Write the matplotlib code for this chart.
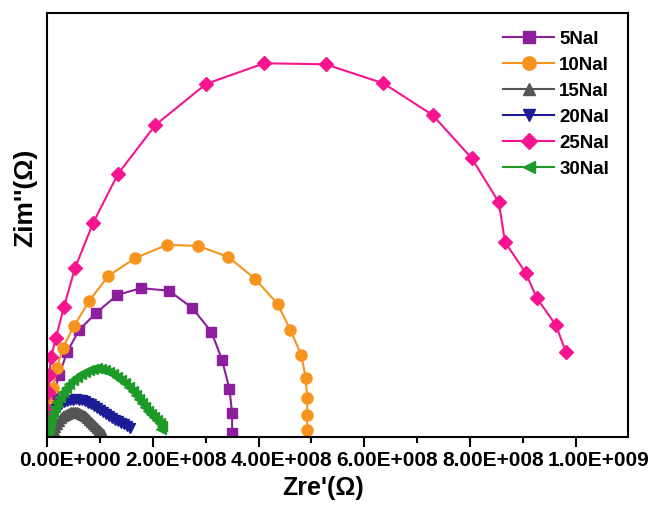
import matplotlib
matplotlib.use("Agg")
import matplotlib.pyplot as plt
from matplotlib.ticker import MultipleLocator, FuncFormatter
from matplotlib.transforms import ScaledTranslation
import numpy as np

plt.rcParams['font.family'] = ['Liberation Sans', 'DejaVu Sans']
plt.rcParams['font.weight'] = 'bold'

# values, in units of 1e8 ohm
unit = 1e8

x_5 = [0.00, 0.04, 0.11, 0.23, 0.38, 0.61, 0.93, 1.33, 1.78, 2.31, 2.75, 3.11, 3.31, 3.45, 3.50, 3.50]
y_5 = [0.00, 0.32, 0.74, 1.17, 1.61, 2.03, 2.35, 2.69, 2.82, 2.77, 2.44, 1.99, 1.46, 0.91, 0.45, 0.08]

x_10 = [0.00, 0.02, 0.06, 0.11, 0.19, 0.30, 0.51, 0.80, 1.16, 1.67, 2.27, 2.86, 3.43, 3.94,
        4.36, 4.60, 4.81, 4.89, 4.92, 4.92, 4.92]
y_10 = [0.00, 0.23, 0.61, 0.93, 1.31, 1.69, 2.10, 2.58, 3.05, 3.39, 3.64, 3.62, 3.41, 2.99,
        2.52, 2.03, 1.55, 1.12, 0.74, 0.42, 0.13]

x_15 = [0.11, 0.13, 0.15, 0.19, 0.23, 0.27, 0.30, 0.34, 0.38, 0.42, 0.45, 0.49, 0.53, 0.57,
        0.61, 0.64, 0.68, 0.72, 0.76, 0.80, 0.83, 0.87, 0.91, 0.95, 0.98, 1.02, 1.06]
y_15 = [0.04, 0.11, 0.19, 0.25, 0.30, 0.36, 0.40, 0.42, 0.44, 0.45, 0.47, 0.47, 0.47, 0.47,
        0.45, 0.44, 0.42, 0.40, 0.36, 0.32, 0.28, 0.25, 0.21, 0.17, 0.13, 0.09, 0.06]

x_20 = [0.00, 0.02, 0.04, 0.06, 0.09, 0.13, 0.17, 0.21, 0.27, 0.32, 0.38, 0.44, 0.49, 0.55,
        0.61, 0.66, 0.72, 0.78, 0.83, 0.89, 0.95, 1.00, 1.06, 1.12, 1.17, 1.23, 1.29, 1.34,
        1.40, 1.46, 1.52, 1.57]
y_20 = [0.06, 0.15, 0.25, 0.32, 0.40, 0.47, 0.53, 0.59, 0.63, 0.66, 0.68, 0.70, 0.70, 0.72,
        0.70, 0.70, 0.68, 0.64, 0.63, 0.59, 0.55, 0.51, 0.47, 0.44, 0.40, 0.36, 0.32, 0.30,
        0.27, 0.25, 0.21, 0.17]

x_25 = [0.00, 0.00, 0.00, 0.02, 0.04, 0.08, 0.17, 0.32, 0.53, 0.87, 1.34, 2.05, 3.01, 4.11,
        5.27, 6.36, 7.29, 8.03, 8.54, 8.66, 9.05, 9.26, 9.62, 9.81]
y_25 = [0.00, 0.23, 0.51, 0.85, 1.17, 1.52, 1.88, 2.46, 3.20, 4.05, 4.98, 5.91, 6.69, 7.08,
        7.06, 6.70, 6.10, 5.28, 4.45, 3.69, 3.11, 2.63, 2.12, 1.61]

x_30 = [0.02, 0.04, 0.06, 0.08, 0.11, 0.15, 0.19, 0.25, 0.30, 0.36, 0.42, 0.49, 0.57, 0.64,
        0.72, 0.80, 0.87, 0.95, 1.02, 1.10, 1.17, 1.25, 1.33, 1.40, 1.48, 1.55, 1.63, 1.69,
        1.74, 1.80, 1.86, 1.91, 1.97, 2.03, 2.08, 2.14, 2.18, 2.16]
y_30 = [0.06, 0.17, 0.28, 0.38, 0.47, 0.57, 0.66, 0.76, 0.85, 0.93, 1.00, 1.08, 1.14, 1.19,
        1.23, 1.27, 1.29, 1.31, 1.29, 1.27, 1.23, 1.19, 1.14, 1.08, 1.02, 0.95, 0.87, 0.80,
        0.72, 0.64, 0.57, 0.49, 0.44, 0.38, 0.32, 0.27, 0.21, 0.15]

labels = ["5NaI", "10NaI", "15NaI", "20NaI", "25NaI", "30NaI"]
colors = ["#8c1f9c", "#f7941d", "#555555", "#1c1c96", "#f7158f", "#1e9a28"]
markers = ["s", "o", "^", "v", "D", "<"]
msizes = [7, 8, 7, 7, 7, 7]

series = [(x_5, y_5), (x_10, y_10), (x_15, y_15), (x_20, y_20), (x_25, y_25), (x_30, y_30)]

fig = plt.figure(figsize=(6.56, 5.05), dpi=100)
ax = fig.add_axes([0.0716, 0.1347, 0.8854, 0.8393])

for (xs, ys), lab, c, m, ms in zip(series, labels, colors, markers, msizes):
    ax.plot(np.array(xs) * unit, np.array(ys) * unit, color=c, marker=m, markersize=ms,
            markeredgecolor=c, linewidth=1.5, label=lab)

ax.set_xlim(0, 10.98 * unit)
ax.set_ylim(0, 8.03 * unit)


def origin_fmt(v, pos):
    if v == 0:
        return "0.00E+000"
    e = int(np.floor(np.log10(abs(v)) + 1e-9))
    return "%.2fE+%03d" % (v / 10 ** e, e)


ax.xaxis.set_major_locator(MultipleLocator(2 * unit))
ax.xaxis.set_minor_locator(MultipleLocator(1 * unit))
ax.xaxis.set_major_formatter(FuncFormatter(origin_fmt))
ax.tick_params(axis='x', which='major', direction='out', length=7, width=1.5,
               labelsize=15, pad=3)
ax.tick_params(axis='x', which='minor', direction='out', length=4, width=1.5)
ax.tick_params(axis='y', which='both', left=False, labelleft=False)

# labels in the source sit a little right of their ticks
shift = ScaledTranslation(23 / 100, 0, fig.dpi_scale_trans)
for lab in ax.get_xticklabels():
    lab.set_fontweight('bold')
    lab.set_transform(lab.get_transform() + shift)

for s in ax.spines.values():
    s.set_linewidth(1.5)

ax.set_xlabel("Zre'(Ω)", fontsize=18, fontweight='bold')
ax.xaxis.set_label_coords(0.475, -0.092)
ax.set_ylabel("Zim''(Ω)", fontsize=19, fontweight='bold')
ax.yaxis.set_label_coords(-0.017, 0.564)

ax.legend(loc='upper left', bbox_to_anchor=(0.786, 0.958), frameon=False,
          prop={'size': 13.5, 'weight': 'bold'}, handlelength=2.7, handletextpad=0.28,
          labelspacing=0.47, borderpad=0, borderaxespad=0, markerscale=1.2)

fig.savefig("out.png", dpi=100)
